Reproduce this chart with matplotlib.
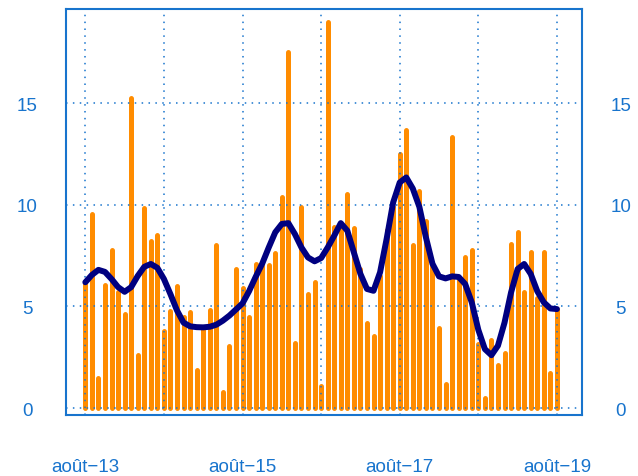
import matplotlib
matplotlib.use('Agg')
import matplotlib.pyplot as plt
import numpy as np
import pandas as pd

plt.rcParams['font.family'] = ['Liberation Sans', 'DejaVu Sans']

# monthly categories, Aug 2013 .. Aug 2019
months = pd.date_range('2013-08-01', '2019-08-01', freq='MS')

bar_values = [6.2, 9.55, 1.48, 6.05, 7.8, 5.7, 4.65, 15.24, 2.61, 9.83,
              8.24, 8.53, 3.81, 4.79, 5.99, 4.46, 4.74, 1.85, 3.97, 4.83,
              8.0, 0.78, 3.03, 6.85, 5.9, 4.47, 7.09, 7.0, 7.05, 7.63,
              10.37, 17.5, 3.18, 9.91, 5.61, 6.19, 1.07, 18.98, 8.9, 8.9,
              10.53, 8.85, 6.84, 4.17, 3.56, 6.5, 8.78, 9.9, 12.5, 13.68,
              8.0, 10.67, 9.22, 7.1, 3.92, 1.18, 13.35, 6.4, 7.45, 7.78,
              3.15, 0.49, 3.36, 2.12, 2.71, 8.07, 8.64, 5.69, 7.66, 5.4,
              7.69, 1.72, 4.87]

trend_values = [6.19, 6.55, 6.8, 6.7, 6.35, 5.95, 5.72, 5.95, 6.5, 6.95,
                7.09, 6.9, 6.35, 5.6, 4.8, 4.2, 4.02, 3.98, 3.97, 4.0,
                4.1, 4.3, 4.55, 4.85, 5.15, 5.75, 6.45, 7.1, 7.9, 8.65,
                9.06, 9.1, 8.56, 7.9, 7.41, 7.22, 7.38, 7.9, 8.48, 9.1,
                8.73, 7.66, 6.6, 5.86, 5.77, 6.68, 8.32, 10.12, 11.1, 11.35,
                10.8, 9.9, 8.4, 7.1, 6.48, 6.38, 6.48, 6.45, 6.1, 5.2,
                3.85, 2.9, 2.6, 3.07, 4.2, 5.69, 6.84, 7.09, 6.6, 5.75,
                5.2, 4.9, 4.87]

x_tick_pos = [0, 24, 48, 72]
x_tick_labels = ['août−13', 'août−15', 'août−17', 'août−19']
x_minor_pos = [12, 36, 60]
y_ticks = [0, 5, 10, 15]

blue = '#1874CD'

fig = plt.figure(figsize=(6.38, 4.77), dpi=100)
ax = fig.add_axes([66 / 638, 1 - 416 / 477, (582 - 66) / 638, (416 - 10) / 477])

x = np.arange(len(months))
ax.vlines(x, 0, bar_values, colors='#FF8C00', linewidth=3.6,
          capstyle='round', zorder=2)
ax.plot(x, trend_values, color='#000080', lw=4.3,
        solid_joinstyle='round', solid_capstyle='round', zorder=3)

ax.set_xlim(-2.95, 75.83)
ax.set_ylim(-0.344, 19.64)

ax.set_xticks(x_tick_pos)
ax.set_xticklabels(x_tick_labels)
ax.set_xticks(x_minor_pos, minor=True)
ax.set_yticks(y_ticks)
ax.set_yticklabels([str(v) for v in y_ticks])

ax.set_axisbelow(False)
ax.grid(which='both', color=blue, linestyle=(0, (1, 3.5)), linewidth=1.1)

ax.tick_params(axis='x', which='both', length=0, pad=31, labelsize=13.5,
               labelcolor=blue)
ax.tick_params(axis='y', which='both', length=0, pad=28, labelsize=13.5,
               labelcolor=blue, left=False, right=False,
               labelleft=True, labelright=True)
for t in ax.yaxis.get_major_ticks():
    t.label1.set_horizontalalignment('center')
    t.label2.set_horizontalalignment('center')

for s in ax.spines.values():
    s.set_color(blue)
    s.set_linewidth(1.5)

fig.savefig('out.png', dpi=100)
